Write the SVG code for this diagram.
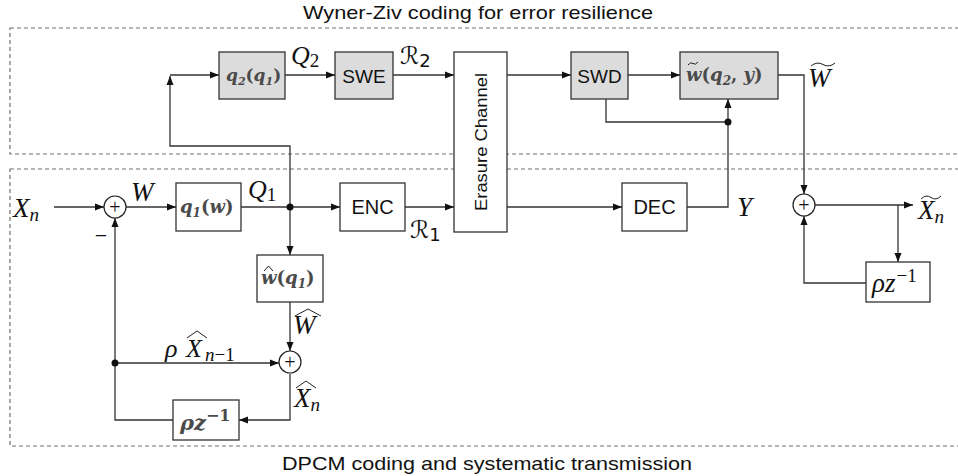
<svg xmlns="http://www.w3.org/2000/svg" width="958" height="476" viewBox="0 0 958 476">
<style>
.frame{fill:none;stroke:#707070;stroke-width:1.2;stroke-dasharray:4 3}
.box{fill:#fff;stroke:#333;stroke-width:1.3}
.gbox{fill:#dcdcdc;stroke:#333;stroke-width:1.3}
.sum{fill:#fff;stroke:#222;stroke-width:1.2}
.ln{fill:none;stroke:#333;stroke-width:1.3}
.acc{fill:none;stroke:#222;stroke-width:1}
.sans{font-family:"Liberation Sans",Arial,sans-serif;fill:#111}
.m{font-family:"Liberation Serif","DejaVu Serif",serif;font-style:italic;fill:#111}
.mg{font-family:"DejaVu Serif","Liberation Serif",serif;font-style:italic;font-weight:bold;fill:#4a4a4a}
.up{font-family:"Liberation Serif","DejaVu Serif",serif;font-style:normal;fill:#111}
.scr{font-family:"DejaVu Sans","Noto Sans",sans-serif;font-style:normal;fill:#111}
</style>
<defs>
<marker id="ah" markerUnits="userSpaceOnUse" markerWidth="10" markerHeight="8" refX="9" refY="4" orient="auto">
<path d="M0,0.5 L9,4 L0,7.5 Z" fill="#111"/>
</marker>
</defs>

<g id="frames">
<rect class="frame" x="10" y="28" width="960" height="126"/>
<rect class="frame" x="10" y="169" width="960" height="277"/>
<text class="sans" x="303" y="19" font-size="18.5" textLength="350" lengthAdjust="spacingAndGlyphs">Wyner-Ziv coding for error resilience</text>
<text class="sans" x="282" y="470" font-size="18.5" textLength="410" lengthAdjust="spacingAndGlyphs">DPCM coding and systematic transmission</text>
</g>

<g id="connectors">
<line class="ln" x1="54" y1="207" x2="104" y2="207" marker-end="url(#ah)"/>
<line class="ln" x1="126" y1="207" x2="176" y2="207" marker-end="url(#ah)"/>
<line class="ln" x1="241" y1="207" x2="340" y2="207" marker-end="url(#ah)"/>
<line class="ln" x1="405" y1="207" x2="454" y2="207" marker-end="url(#ah)"/>
<line class="ln" x1="507" y1="207" x2="622" y2="207" marker-end="url(#ah)"/>
<polyline class="ln" points="687,207 728,207 728,99" marker-end="url(#ah)"/>
<polyline class="ln" points="606,99 606,122 728,122"/>
<polyline class="ln" points="290,207 290,146 170,146 170,76" marker-end="url(#ah)"/>
<line class="ln" x1="170" y1="75" x2="219" y2="75" marker-end="url(#ah)"/>
<line class="ln" x1="285" y1="75" x2="335" y2="75" marker-end="url(#ah)"/>
<line class="ln" x1="393" y1="75" x2="454" y2="75" marker-end="url(#ah)"/>
<line class="ln" x1="507" y1="75" x2="571" y2="75" marker-end="url(#ah)"/>
<line class="ln" x1="628" y1="75" x2="680" y2="75" marker-end="url(#ah)"/>
<polyline class="ln" points="778,75 804,75 804,194" marker-end="url(#ah)"/>
<line class="ln" x1="815" y1="205" x2="913" y2="205" marker-end="url(#ah)"/>
<line class="ln" x1="898" y1="205" x2="898" y2="262" marker-end="url(#ah)"/>
<polyline class="ln" points="866,283 804,283 804,216" marker-end="url(#ah)"/>
<line class="ln" x1="290" y1="207" x2="290" y2="255" marker-end="url(#ah)"/>
<line class="ln" x1="290" y1="302" x2="290" y2="351" marker-end="url(#ah)"/>
<polyline class="ln" points="173,420 115,420 115,218" marker-end="url(#ah)"/>
<line class="ln" x1="115" y1="363" x2="279" y2="363" marker-end="url(#ah)"/>
<polyline class="ln" points="290,374 290,420 239,420" marker-end="url(#ah)"/>
<circle cx="290" cy="207" r="3.5" fill="#111"/>
<circle cx="728" cy="122" r="3.5" fill="#111"/>
<circle cx="115" cy="363" r="3.5" fill="#111"/>
</g>

<g id="sum1"><circle class="sum" cx="115" cy="207" r="11"/><text class="up" x="115" y="214" font-size="20" text-anchor="middle">+</text></g>
<g id="sum2"><circle class="sum" cx="290" cy="362" r="11"/><text class="up" x="290" y="369" font-size="20" text-anchor="middle">+</text></g>
<g id="sum3"><circle class="sum" cx="804" cy="205" r="11"/><text class="up" x="804" y="212" font-size="20" text-anchor="middle">+</text></g>

<g id="q2"><rect class="gbox" x="219" y="52" width="66" height="47"/>
<text class="mg" x="226" y="81" font-size="17">q<tspan font-size="11" dy="4">2</tspan><tspan dy="-4" font-style="normal">(</tspan>q<tspan font-size="11" dy="4">1</tspan><tspan dy="-4" font-style="normal">)</tspan></text></g>
<g id="swe"><rect class="gbox" x="335" y="52" width="58" height="47"/>
<text class="sans" x="364" y="83" font-size="19" text-anchor="middle">SWE</text></g>
<g id="erasure"><rect class="box" x="454" y="52" width="53" height="180"/>
<text class="sans" transform="translate(487,142) rotate(-90)" font-size="17" text-anchor="middle" textLength="138" lengthAdjust="spacingAndGlyphs">Erasure Channel</text></g>
<g id="swd"><rect class="gbox" x="571" y="52" width="57" height="47"/>
<text class="sans" x="599.5" y="83" font-size="19" text-anchor="middle">SWD</text></g>
<g id="wtilde"><rect class="gbox" x="680" y="52" width="98" height="47"/>
<text class="mg" x="686" y="81" font-size="18">w<tspan font-style="normal">(</tspan>q<tspan font-size="12" dy="4">2</tspan><tspan dy="-4" font-style="normal">, </tspan>y<tspan font-style="normal">)</tspan></text>
<path class="acc" d="M688,65 q2.5,-3.5 5,-1.5 t5,-1.5" stroke="#4a4a4a" stroke-width="1.4"/></g>
<g id="q1"><rect class="box" x="176" y="183" width="65" height="48"/>
<text class="mg" x="180" y="213" font-size="18">q<tspan font-size="12" dy="4">1</tspan><tspan dy="-4" font-style="normal">(</tspan>w<tspan font-style="normal">)</tspan></text></g>
<g id="enc"><rect class="box" x="340" y="183" width="65" height="48"/>
<text class="sans" x="372.5" y="214" font-size="20" text-anchor="middle">ENC</text></g>
<g id="dec"><rect class="box" x="622" y="183" width="65" height="48"/>
<text class="sans" x="654.5" y="214" font-size="20" text-anchor="middle">DEC</text></g>
<g id="what"><rect class="box" x="257" y="255" width="66" height="47"/>
<text class="mg" x="261" y="284" font-size="18">w<tspan font-style="normal">(</tspan>q<tspan font-size="12" dy="4">1</tspan><tspan dy="-4" font-style="normal">)</tspan></text>
<path class="acc" d="M264,271 L268.5,266 L273,271" stroke="#4a4a4a" stroke-width="1.4"/></g>
<g id="delay1"><rect class="box" x="173" y="400" width="66" height="40"/>
<text class="mg" x="180" y="430" font-size="21">ρz<tspan font-style="normal" font-size="16" dy="-9">−1</tspan></text></g>
<g id="delay2"><rect class="box" x="866" y="262" width="64" height="40"/>
<text class="m" x="872" y="292" font-size="27">ρz<tspan font-style="normal" font-size="19" dy="-10" dx="1">−1</tspan></text></g>

<g id="labels">
<text class="m" x="13" y="217" font-size="27">X<tspan font-size="19" dy="4">n</tspan></text>
<text class="m" x="131" y="201" font-size="27">W</text>
<text class="m" x="248" y="198" font-size="26">Q<tspan class="up" font-style="normal" font-size="19" dy="3">1</tspan></text>
<text class="m" x="291" y="64" font-size="26">Q<tspan font-style="normal" font-size="19" dy="3">2</tspan></text>
<text class="scr" x="400" y="64" font-size="24">ℛ<tspan font-size="18" dy="3">2</tspan></text>
<text class="scr" x="410" y="238" font-size="24">ℛ<tspan font-size="18" dy="3">1</tspan></text>
<text class="m" x="737" y="216" font-size="27">Y</text>
<text class="m" x="808" y="87" font-size="27">W</text>
<path class="acc" d="M811,66 q6,-5 12,-1.5 t12,-1.5"/>
<text class="m" x="918" y="219" font-size="27">X<tspan font-size="19" dy="4">n</tspan></text>
<path class="acc" d="M921,199 q5,-5 10,-1.5 t10,-1.5"/>
<text class="m" x="293" y="334" font-size="27">W</text>
<path class="acc" d="M295,316 L308,309 L321,316"/>
<text class="m" x="165" y="357" font-size="26">ρ<tspan x="186">X</tspan><tspan x="205" font-size="19" dy="4">n</tspan><tspan class="up" font-style="normal" font-size="19">−1</tspan></text>
<path class="acc" d="M187,338 L197,331 L207,338"/>
<text class="m" x="294" y="407" font-size="27">X<tspan font-size="19" dy="4">n</tspan></text>
<path class="acc" d="M296,388 L306,381 L316,388"/>
<text class="up" x="101" y="243" font-size="22" text-anchor="middle">−</text>
</g>
</svg>
